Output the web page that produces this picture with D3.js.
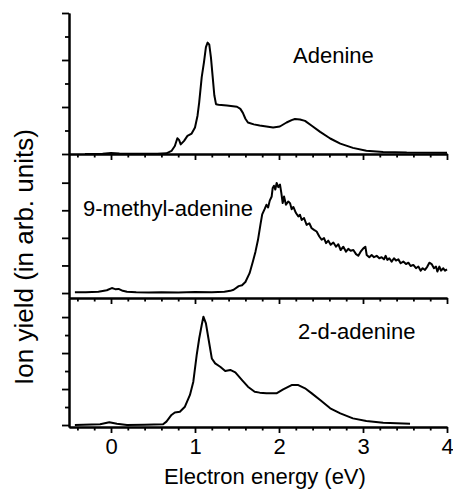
<!DOCTYPE html>
<html>
<head>
    <title>Ion yield vs electron energy</title>
    <script src="https://d3js.org/d3.v7.min.js"></script>
    <style>
        body { margin: 0; background: #fff; font-family: "Liberation Sans", Arial, sans-serif; }
        .axis path, .axis line { fill: none; stroke: #000; }
        .axis path { stroke-width: 2px; }
        .axis line { stroke-width: 1.8px; }
        .axis text { font-family: "Liberation Sans", Arial, sans-serif; font-size: 22px; fill: #000; }
        .curve { fill: none; stroke: #000; stroke-width: 2px; stroke-linejoin: round; }
        .label { font-size: 22px; fill: #000; }
    </style>
</head>
<body>
<div id="chart"></div>
<script>
// x axis ticks (eV)
const majorEnergy = [0, 1, 2, 3, 4];
const minorEnergy = [-0.4, -0.2, 0.2, 0.4, 0.6, 0.8, 1.2, 1.4, 1.6, 1.8, 2.2, 2.4, 2.6, 2.8, 3.2, 3.4, 3.6, 3.8];

// [energy eV, yield arb. units]
const adenine = [[-0.31,0],[-0.1,0.01],[0,0.04],[0.1,0.02],[0.3,0.01],[0.55,0.01],[0.66,0.03],[0.72,0.13],[0.76,0.34],[0.79,0.67],[0.81,0.6],[0.83,0.41],[0.87,0.56],[0.91,0.77],[0.96,0.87],[1.0,1.13],[1.03,1.63],[1.05,2.2],[1.08,3.27],[1.107,3.91],[1.13,4.55],[1.15,4.74],[1.17,4.65],[1.19,4.1],[1.21,3.3],[1.23,2.5],[1.25,2.12],[1.28,2.1],[1.38,2.06],[1.5,2.01],[1.54,1.92],[1.57,1.75],[1.6,1.5],[1.63,1.34],[1.7,1.26],[1.77,1.21],[1.85,1.17],[1.93,1.13],[2.01,1.17],[2.09,1.34],[2.15,1.44],[2.19,1.49],[2.25,1.47],[2.31,1.41],[2.39,1.2],[2.49,0.94],[2.61,0.66],[2.73,0.44],[2.88,0.26],[3.04,0.14],[3.24,0.09],[3.52,0.06],[4.0,0.05]];

const methylAdenine = [[-0.43,0.03],[-0.3,0.03],[-0.15,0.05],[-0.05,0.1],[0.01,0.18],[0.05,0.14],[0.09,0.15],[0.14,0.08],[0.19,0.05],[0.3,0.03],[0.45,0.02],[0.6,0.03],[0.8,0.02],[1.0,0.04],[1.2,0.03],[1.35,0.05],[1.42,0.08],[1.46,0.12],[1.52,0.25],[1.56,0.28],[1.6,0.4],[1.65,0.72],[1.69,1.15],[1.72,1.5],[1.75,1.93],[1.78,2.5],[1.8,2.85],[1.83,3.05],[1.85,3.2],[1.87,3.1],[1.89,3.35],
    [1.913,3.5],[1.925,3.81],[1.94,3.89],[1.956,3.75],[1.972,3.99],[1.992,3.84],[2.012,3.93],[2.028,3.62],[2.044,3.26],[2.06,3.5],[2.083,3.2],[2.111,3.32],[2.131,3.26],[2.151,3.04],[2.171,3.12],[2.202,2.9],[2.23,2.78],[2.25,2.84],[2.27,2.65],[2.298,2.72],[2.329,2.47],[2.361,2.53],[2.389,2.35],[2.417,2.29],[2.448,2.23],[2.48,2.05],[2.508,1.93],[2.536,1.99],[2.56,1.81],[2.587,1.9],[2.615,1.75],[2.647,1.83],[2.679,1.68],[2.706,1.77],[2.734,1.56],[2.766,1.68],[2.798,1.5],[2.825,1.6],[2.853,1.53],[2.885,1.56],[2.917,1.41],[2.944,1.35],[2.972,1.5],[3.004,1.62],[3.028,1.68],[3.044,1.38],[3.075,1.3],[3.103,1.38],[3.131,1.3],[3.163,1.35],[3.194,1.26],[3.222,1.3],[3.25,1.22],[3.27,1.35],[3.29,1.2],[3.313,1.26],[3.341,1.14],[3.369,1.26],[3.393,1.18],[3.421,1.22],[3.448,1.08],[3.48,1.14],[3.512,1.05],[3.54,1.1],[3.567,0.98],[3.599,1.02],[3.631,0.9],[3.659,0.96],[3.687,0.81],[3.71,0.9],[3.738,0.84],[3.766,0.96],[3.79,1.1],[3.817,1.05],[3.845,0.9],[3.869,0.96],[3.885,0.78],[3.909,0.96],[3.929,0.81],[3.956,0.9],[3.976,0.81],[4.0,0.86]];

const deuteroAdenine = [[-0.43,0],[-0.13,0.04],[-0.02,0.15],[0.07,0.07],[0.19,0],[0.4,0.02],[0.62,0.04],[0.66,0.19],[0.72,0.56],[0.76,0.7],[0.82,0.74],[0.88,1.02],[0.94,1.67],[0.98,2.41],[1.02,3.89],[1.05,4.81],[1.08,5.56],[1.1,6.02],[1.13,5.65],[1.16,4.81],[1.2,3.7],[1.24,3.43],[1.3,3.24],[1.36,3.0],[1.42,3.06],[1.48,2.93],[1.56,2.5],[1.63,2.13],[1.71,1.85],[1.77,1.8],[1.85,1.76],[1.97,1.76],[2.05,1.98],[2.15,2.22],[2.23,2.22],[2.31,2.04],[2.39,1.76],[2.49,1.39],[2.61,0.93],[2.73,0.65],[2.88,0.37],[3.04,0.22],[3.24,0.13],[3.56,0.07]];

const panelNames = ["Adenine", "9-methyl-adenine", "2-d-adenine"];

const width = 453, height = 490;
const svg = d3.select('#chart').append('svg')
    .attr('width', width)
    .attr('height', height);

const xScale = d3.scaleLinear().domain([-0.5, 4]).range([69, 447]);

const panels = [
    { data: adenine, name: panelNames[0], domain: [0, 6], range: [154, 13],
      major: [0, 2, 4, 6], minor: [1, 3, 5], labelX: 293, labelY: 63 },
    { data: methylAdenine, name: panelNames[1], domain: [-0.18, 5.04], range: [298, 154],
      major: [0, 1, 2, 3, 4], minor: [], labelX: 83, labelY: 216 },
    { data: deuteroAdenine, name: panelNames[2], domain: [-0.11, 7.06], range: [427, 298],
      major: [0, 2, 4, 6], minor: [1, 3, 5], labelX: 298, labelY: 339 }
];

panels.forEach((p, i) => {
    const yScale = d3.scaleLinear().domain(p.domain).range(p.range);
    const last = i === panels.length - 1;

    // bottom axis
    svg.append('g').attr('class', 'axis')
        .attr('transform', `translate(0,${p.range[0]})`)
        .call(d3.axisBottom(xScale).tickValues(minorEnergy).tickSize(3.5).tickSizeOuter(0).tickFormat(''));
    svg.append('g').attr('class', 'axis')
        .attr('transform', `translate(0,${p.range[0]})`)
        .call(d3.axisBottom(xScale).tickValues(majorEnergy).tickSize(6).tickSizeOuter(0).tickPadding(5)
            .tickFormat(last ? d3.format('d') : ''));

    // left axis
    svg.append('g').attr('class', 'axis')
        .attr('transform', `translate(${xScale.range()[0]},0)`)
        .call(d3.axisLeft(yScale).tickValues(p.minor).tickSize(4).tickSizeOuter(0).tickFormat(''));
    svg.append('g').attr('class', 'axis')
        .attr('transform', `translate(${xScale.range()[0]},0)`)
        .call(d3.axisLeft(yScale).tickValues(p.major).tickSize(7).tickSizeOuter(0).tickFormat(''));

    const line = d3.line()
        .x(d => xScale(d[0]))
        .y(d => yScale(d[1]));

    svg.append('path')
        .datum(p.data)
        .attr('class', 'curve')
        .attr('d', line);

    svg.append('text')
        .attr('class', 'label')
        .attr('x', p.labelX)
        .attr('y', p.labelY)
        .text(p.name);
});

svg.append('text')
    .attr('class', 'label')
    .attr('x', 265)
    .attr('y', 484)
    .attr('text-anchor', 'middle')
    .text('Electron energy (eV)');

svg.append('text')
    .attr('class', 'label')
    .style('font-size', '26px')
    .attr('transform', 'translate(33,257) rotate(-90)')
    .attr('text-anchor', 'middle')
    .text('Ion yield (in arb. units)');
</script>
</body>
</html>
